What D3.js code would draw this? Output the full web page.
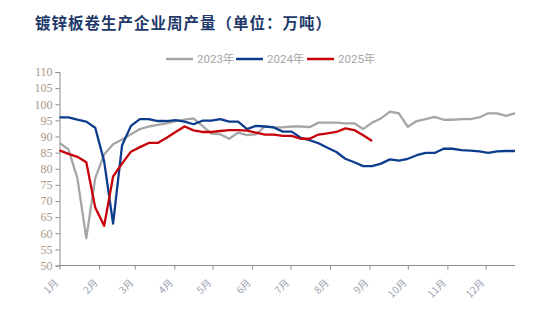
<!DOCTYPE html>
<html><head><meta charset="utf-8">
<script src="https://cdn.jsdelivr.net/npm/d3@7"></script>
<style>
html,body{margin:0;padding:0;background:#fff;}
svg{display:block;}
</style></head>
<body>
<svg id="chart" width="534" height="322"></svg>
<script>
const title = "镀锌板卷生产企业周产量（单位：万吨）";
const seriesNames = ["2023年", "2024年", "2025年"];
const seriesColors = ["#a6a6a6", "#0d3c8c", "#c8000a"];
const monthLabels = ["1月","2月","3月","4月","5月","6月","7月","8月","9月","10月","11月","12月"];
const monthStartDays = [0,31,59,90,120,151,181,212,243,273,304,334];
const yTicks = [50,55,60,65,70,75,80,85,90,95,100,105,110];
const weekIndex = d3.range(52);
const s2023 = [88.0,86.0,77.1,58.5,77.1,84.4,87.6,89.1,90.7,92.3,93.1,93.6,94.1,94.8,95.2,95.6,93.3,90.9,90.7,89.3,91.2,90.4,90.7,93.1,92.8,92.8,93.1,93.1,92.9,94.3,94.3,94.3,94.1,94.1,92.3,94.3,95.6,97.7,97.2,93.0,94.8,95.4,96.1,95.2,95.2,95.4,95.4,95.9,97.2,97.2,96.4,97.2];
const s2024 = [95.9,95.9,95.2,94.6,92.7,82.3,63.0,87.2,93.3,95.4,95.4,94.8,94.8,95.1,94.6,93.8,94.9,94.9,95.4,94.6,94.6,92.3,93.3,93.1,92.8,91.5,91.5,89.6,88.9,87.9,86.5,85.2,83.1,82.0,80.8,80.8,81.6,82.9,82.5,83.1,84.2,84.9,84.9,86.2,86.2,85.8,85.6,85.4,84.9,85.4,85.5,85.5];
const s2025 = [85.7,84.6,83.7,82.0,68.0,62.3,77.6,81.6,85.3,86.7,88.0,88.0,89.6,91.4,93.1,91.9,91.4,91.4,91.7,92.0,92.0,91.8,91.2,90.6,90.6,90.2,90.2,89.3,89.3,90.6,91.0,91.4,92.5,92.0,90.4,88.6];
const allSeries = [s2023, s2024, s2025];

const svg = d3.select("#chart");
svg.append("rect").attr("width",534).attr("height",322).attr("fill","#fff");

const x = d3.scaleLinear().domain([0, 357]).range([59.5, 515]);
const y = d3.scaleLinear().domain([50, 110]).range([265.5, 72]);

// title
svg.append("text").attr("x", 35).attr("y", 29)
  .attr("font-family", "'Noto Sans CJK SC', sans-serif")
  .attr("font-size", 15.5).attr("font-weight", "bold")
  .attr("fill", "#1f3a6a").attr("letter-spacing", 1)
  .text(title);

// legend
const legX = [166, 236, 307];
seriesNames.forEach((n, i) => {
  const g = svg.append("g").attr("transform", `translate(${legX[i]},59)`);
  g.append("line").attr("x1", 0).attr("x2", 27).attr("y1", 0).attr("y2", 0)
    .attr("stroke", seriesColors[i]).attr("stroke-width", 2.5);
  g.append("text").attr("x", 31).attr("y", 4.3)
    .attr("font-family", "Roboto, 'Noto Sans CJK SC', sans-serif").attr("font-size", 11.5)
    .attr("fill", "#a6a6a6").text(n);
});

// y axis
const yAxis = d3.axisLeft(y).tickValues(yTicks).tickSize(4).tickPadding(3);
const gy = svg.append("g").attr("transform", "translate(59.5,0)").call(yAxis);
gy.select(".domain").attr("stroke", "#8c8c8c");
gy.selectAll(".tick line").attr("stroke", "#8c8c8c");
gy.selectAll(".tick text").attr("font-family", "'Liberation Serif', serif")
  .attr("font-size", 12).attr("fill", "#a8988a");

// x axis
const xAxis = d3.axisBottom(x).tickValues(monthStartDays).tickSize(4).tickFormat("");
const gx = svg.append("g").attr("transform", "translate(0,265.5)").call(xAxis);
gx.select(".domain").attr("stroke", "#8c8c8c").attr("d", `M59.5,0H515`);
gx.selectAll(".tick line").attr("stroke", "#8c8c8c");
monthStartDays.forEach((d, i) => {
  svg.append("text")
    .attr("transform", `translate(${x(d) - 3},${281}) rotate(-45)`)
    .attr("text-anchor", "end")
    .attr("dy", "0.35em")
    .attr("font-family", "'Noto Sans CJK SC', sans-serif").attr("font-size", 10)
    .attr("fill", "#9aa3b0").text(monthLabels[i]);
});

// lines
const line = d3.line().x((d, i) => x(weekIndex[i] * 7)).y(d => y(d));
allSeries.forEach((s, i) => {
  svg.append("path").datum(s).attr("d", line)
    .attr("fill", "none").attr("stroke", seriesColors[i])
    .attr("stroke-width", 2.3).attr("stroke-linejoin", "round");
});
</script>
</body></html>
